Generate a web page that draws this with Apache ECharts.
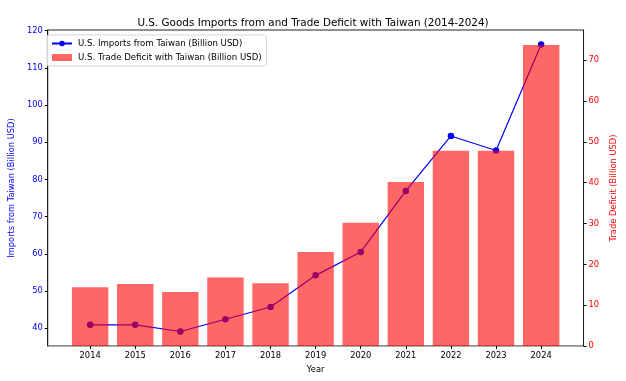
<!DOCTYPE html>
<html>
<head>
<meta charset="utf-8">
<script src="https://cdn.jsdelivr.net/npm/echarts@6/dist/echarts.min.js"></script>
<style>html,body{margin:0;padding:0;background:#fff}#c{width:626px;height:381px}</style>
</head>
<body>
<div id="c"></div>
<script>
const years = ['2014','2015','2016','2017','2018','2019','2020','2021','2022','2023','2024'];
const imports = [40.9, 40.9, 39.1, 42.4, 45.7, 54.2, 60.5, 76.9, 91.7, 87.8, 116.3];
const deficit = [14.4, 15.2, 13.2, 16.8, 15.4, 23.0, 30.2, 40.2, 47.8, 47.8, 73.7];
const leftTicks = [40, 50, 60, 70, 80, 90, 100, 110, 120];
const rightTicks = [0, 10, 20, 30, 40, 50, 60, 70];

const FONT = 'DejaVu Sans';
const idx = years.map((_, i) => i);
const chart = echarts.init(document.getElementById('c'), null, {renderer: 'canvas'});
chart.setOption({
  animation: false,
  backgroundColor: '#fff',
  title: {
    text: 'U.S. Goods Imports from and Trade Deficit with Taiwan (2014-2024)',
    left: 'center', top: 13,
    textStyle: {fontFamily: FONT, fontSize: 10.4, fontWeight: 'normal', color: '#000'}
  },
  legend: {
    orient: 'vertical', left: 47, top: 35,
    padding: [4, 5, 4, 4],
    itemGap: 5, itemWidth: 20, itemHeight: 7,
    borderColor: '#d5d5d5', borderWidth: 1, borderRadius: 2,
    backgroundColor: 'rgba(255,255,255,0.8)',
    textStyle: {fontFamily: FONT, fontSize: 8.6, color: '#000', padding: [0, 0, 0, 1]},
    data: [
      {name: 'U.S. Imports from Taiwan (Billion USD)'},
      {name: 'U.S. Trade Deficit with Taiwan (Billion USD)', icon: 'rect'}
    ]
  },
  grid: {left: 46, right: 39, top: 30, bottom: 35, show: true, borderColor: '#222', borderWidth: 1, backgroundColor: 'transparent'},
  xAxis: {
    type: 'value', min: -0.94, max: 10.94,
    name: 'Year', nameLocation: 'middle', nameGap: 20,
    nameTextStyle: {fontFamily: FONT, fontSize: 8.3, color: '#000'},
    axisLine: {show: true, onZero: false, lineStyle: {color: '#aaa', width: 1}},
    axisTick: {show: true, length: 3, customValues: idx, lineStyle: {color: '#000'}},
    axisLabel: {customValues: idx, formatter: v => years[Math.round(v)] || '', fontFamily: FONT, fontSize: 8.3, color: '#000', margin: 6},
    splitLine: {show: false}
  },
  yAxis: [
    {
      type: 'value', position: 'left', min: 35.2, max: 120.2,
      name: 'Imports from Taiwan (Billion USD)', nameLocation: 'middle', nameGap: 20, nameRotate: 90,
      nameTextStyle: {fontFamily: FONT, fontSize: 8.3, color: '#0000ff'},
      axisLine: {show: true, onZero: false, lineStyle: {color: '#222'}},
      axisTick: {show: true, length: 3, customValues: leftTicks, lineStyle: {color: '#000'}},
      axisLabel: {customValues: leftTicks, fontFamily: FONT, fontSize: 8.3, color: '#0000ff', margin: 5},
      splitLine: {show: false}
    },
    {
      type: 'value', position: 'right', min: 0, max: 77.4,
      name: 'Trade Deficit (Billion USD)', nameLocation: 'middle', nameGap: 21, nameRotate: 90,
      nameTextStyle: {fontFamily: FONT, fontSize: 8.3, color: '#ff0000'},
      axisLine: {show: true, onZero: false, lineStyle: {color: '#222'}},
      axisTick: {show: true, length: 3, customValues: rightTicks, lineStyle: {color: '#000'}},
      axisLabel: {customValues: rightTicks, fontFamily: FONT, fontSize: 8.3, color: '#ff0000', margin: 5},
      splitLine: {show: false}
    }
  ],
  series: [
    {
      name: 'U.S. Imports from Taiwan (Billion USD)',
      type: 'line', yAxisIndex: 0, z: 2,
      data: imports.map((v, i) => [i, v]),
      symbol: 'circle', symbolSize: 6.5,
      lineStyle: {color: '#0000ff', width: 1.2},
      itemStyle: {color: '#0000ff'}
    },
    {
      name: 'U.S. Trade Deficit with Taiwan (Billion USD)',
      type: 'bar', yAxisIndex: 1, z: 3,
      data: deficit.map((v, i) => [i, v]),
      barWidth: 36.4,
      itemStyle: {color: '#ff0000', opacity: 0.6}
    }
  ]
});
</script>
</body>
</html>
